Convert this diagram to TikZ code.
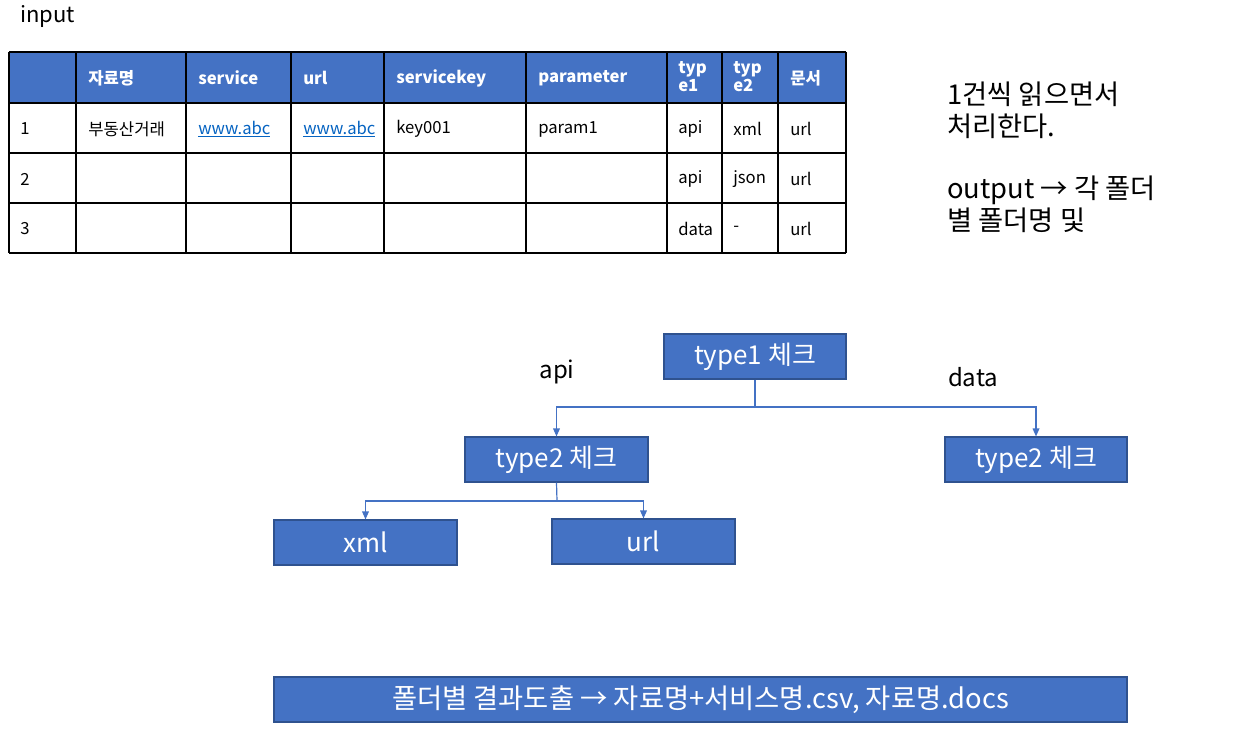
\documentclass[tikz,border=0pt]{standalone}
\usepackage{fontspec}
\setmainfont{Noto Sans CJK KR}
\usetikzlibrary{arrows.meta}
\definecolor{boxblue}{HTML}{4472C4}
\definecolor{boxedge}{HTML}{2F528F}
\definecolor{linkblue}{HTML}{0563C1}
\tikzset{
  blk/.style={draw=boxedge, line width=0.8pt, fill=boxblue, text=white, font=\fontsize{19.5}{22}\selectfont, inner sep=0pt},
  conn/.style={draw=boxblue, line width=0.9pt, -{Triangle[width=5pt,length=6pt]}},
  connplain/.style={draw=boxblue, line width=0.9pt},
  cell/.style={anchor=west, inner sep=0pt, font=\fontsize{12.5}{14}\selectfont},
  hcell/.style={anchor=west, inner sep=0pt, text=white, font=\fontsize{12.5}{13.5}\selectfont\bfseries, align=left},
  lbl/.style={inner sep=0pt, font=\fontsize{18}{20}\selectfont},
  link/.style={cell, text=linkblue},
}
\begin{document}
\begin{tikzpicture}[x=0.75pt,y=-0.75pt]
\useasboundingbox (0,0) rectangle (1257,755);
% input label
\node[lbl, anchor=west, font=\fontsize{16.5}{18}\selectfont] (inp) at (20,16) {input};
% table
\fill[boxblue] (9,52) rectangle (846,103);
\foreach \x in {9,76,186,291,384,526,667,722,778,846} \draw[line width=1.1pt] (\x,52) -- (\x,253);
\foreach \y in {52,103,153,203,253} \draw[line width=1.1pt] (9,\y) -- (846,\y);
% header
\node[hcell] (h1) at (88,78) {자료명};
\node[hcell] (h2) at (198,78) {service};
\node[hcell] (h3) at (303,78) {url};
\node[hcell] (h4) at (396,78) {servicekey};
\node[hcell] (h5) at (538,78) {parameter};
\node[hcell] (h6) at (678,77) {typ\\e1};
\node[hcell] (h7) at (733,77) {typ\\e2};
\node[hcell] (h8) at (790,78) {문서};
% row 1
\node[cell] (r1a) at (20,129) {1};
\node[cell] (r1b) at (88,129) {부동산거래};
\node[link] (r1c) at (198,129) {\underline{www.abc}};
\node[link] (r1d) at (303,129) {\underline{www.abc}};
\node[cell] (r1e) at (396,129) {key001};
\node[cell] (r1f) at (538,129) {param1};
\node[cell] (r1g) at (678,129) {api};
\node[cell] (r1h) at (733,129) {xml};
\node[cell] (r1i) at (790,129) {url};
% row 2
\node[cell] (r2a) at (20,179) {2};
\node[cell] (r2g) at (678,179) {api};
\node[cell] (r2h) at (733,179) {json};
\node[cell] (r2i) at (790,179) {url};
% row 3
\node[cell] (r3a) at (20,229) {3};
\node[cell] (r3g) at (678,229) {data};
\node[cell] (r3h) at (733,229) {-};
\node[cell] (r3i) at (790,229) {url};
% right text
\node[anchor=north west, inner sep=0pt, align=left, font=\fontsize{20.5}{23.5}\selectfont] (note) at (947,82)
  {1건씩 읽으면서\\처리한다.\\[23.5pt]output → 각 폴더\\별 폴더명 및};
% tree
\node[blk, minimum width=182*0.75pt, minimum height=45*0.75pt] (t1) at (755,356.5) {type1 체크};
\node[blk, minimum width=183*0.75pt, minimum height=45*0.75pt] (t2a) at (556.5,459.5) {type2 체크};
\node[blk, minimum width=182*0.75pt, minimum height=45*0.75pt] (t2b) at (1036,459.5) {type2 체크};
\node[blk, minimum width=183*0.75pt, minimum height=45*0.75pt] (xml) at (365.5,542.5) {xml};
\node[blk, minimum width=183*0.75pt, minimum height=45*0.75pt] (url) at (643.5,541.5) {url};
\node[blk, minimum width=853*0.75pt, minimum height=45*0.75pt, font=\fontsize{20.5}{22}\selectfont] (res) at (700.5,699.5) {폴더별 결과도출 → 자료명+서비스명.csv, 자료명.docs};
\node[lbl] (api) at (557,372) {api};
\node[lbl] (data) at (973,377) {data};
% connectors
\coordinate (j1) at (755,407);
\coordinate (j2) at (557,501);
\draw[connplain] (t1.south) -- (j1);
\draw[conn] (j1) -| (t2a.north);
\draw[conn] (j1) -| (t2b.north);
\draw[connplain] (t2a.south) -- (j2);
\draw[conn] (j2) -| (xml.north);
\draw[conn] (j2) -| (url.north);
\end{tikzpicture}
\end{document}
